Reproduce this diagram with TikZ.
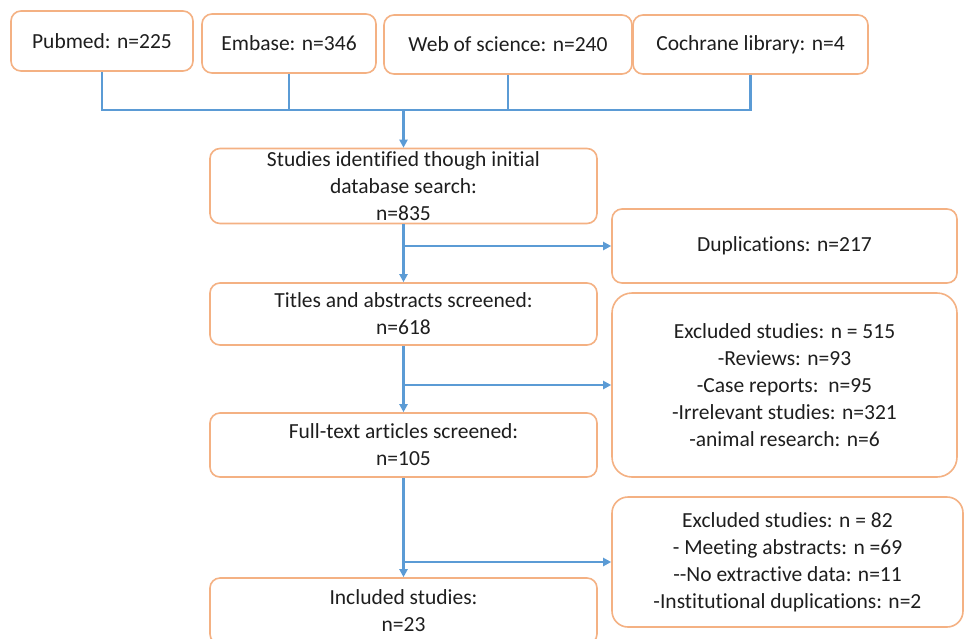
\documentclass[tikz,border=0pt]{standalone}
\usepackage{fontspec}
\setmainfont{Carlito}[Ligatures={TeX,NoCommon}]
\usetikzlibrary{arrows.meta}
\definecolor{boxorange}{RGB}{244,177,131}
\definecolor{lineblue}{RGB}{91,155,213}
\definecolor{txt}{RGB}{30,30,30}
\begin{document}
\begin{tikzpicture}[x=1pt,y=-1pt,
  box/.style={draw=boxorange, line width=1.6pt, rounded corners=10pt, fill=white, align=center,
    text=txt, font=\fontsize{21.5}{27}\selectfont, inner sep=0pt},
  bigbox/.style={box, rounded corners=20pt},
  conn/.style={draw=lineblue, line width=2.4pt},
  arr/.style={conn, -{Triangle[length=8pt,width=8pt]}}]
\useasboundingbox (0,0) rectangle (965,638);
\clip (0,0) rectangle (965,638);
\fill[white] (0,0) rectangle (965,638);
% top sources
\node[box, minimum width=182pt, minimum height=60pt] (pub) at (102,41) {Pubmed: n=225};
\node[box, minimum width=174pt, minimum height=59pt] (emb) at (289,43.5) {Embase: n=346};
\node[box, minimum width=248pt, minimum height=59pt] (web) at (508,44.5) {Web of science: n=240};
\node[box, minimum width=235pt, minimum height=59pt] (coch) at (750.5,44.5) {Cochrane library: n=4};
% main column
\node[box, minimum width=387pt, minimum height=75pt] (study) at (403.5,186) {Studies identified though initial\\database search:\\n=835};
\node[box, minimum width=387pt, minimum height=62pt] (titles) at (403.5,314) {Titles and abstracts screened:\\n=618};
\node[box, minimum width=387pt, minimum height=64pt] (full) at (403.5,445) {Full-text articles screened:\\n=105};
\node[box, minimum width=387pt, minimum height=66pt] (incl) at (403.5,611) {Included studies:\\n=23};
% right column
\node[box, minimum width=345pt, minimum height=74pt] (dup) at (784.5,246) {Duplications: n=217};
\node[bigbox, minimum width=345pt, minimum height=184pt] (exa) at (784.5,385) {Excluded studies: n = 515\\-Reviews: n=93\\-Case reports:\ \ n=95\\-Irrelevant studies: n=321\\-animal research: n=6};
\node[box, rounded corners=16pt, minimum width=351pt, minimum height=130pt] (exb) at (787.5,562) {Excluded studies: n = 82\\- Meeting abstracts: n =69\\-{}-No extractive data: n=11\\-Institutional duplications: n=2};
% connectors
\coordinate (j) at (403.5,110);
\draw[conn] (pub.south) |- (j);
\draw[conn] (emb.south) |- (j);
\draw[conn] (web.south) |- (j);
\draw[conn] (coch.south) |- (j);
\draw[arr] (j) -- (study.north);
\draw[arr] (study.south) -- (titles.north);
\draw[arr] (study.south |- dup.west) -- (dup.west);
\draw[arr] (titles.south) -- (full.north);
\draw[arr] (titles.south |- exa.west) -- (exa.west);
\draw[arr] (full.south) -- (incl.north);
\draw[arr] (full.south |- exb.west) -- (exb.west);
\end{tikzpicture}
\end{document}
